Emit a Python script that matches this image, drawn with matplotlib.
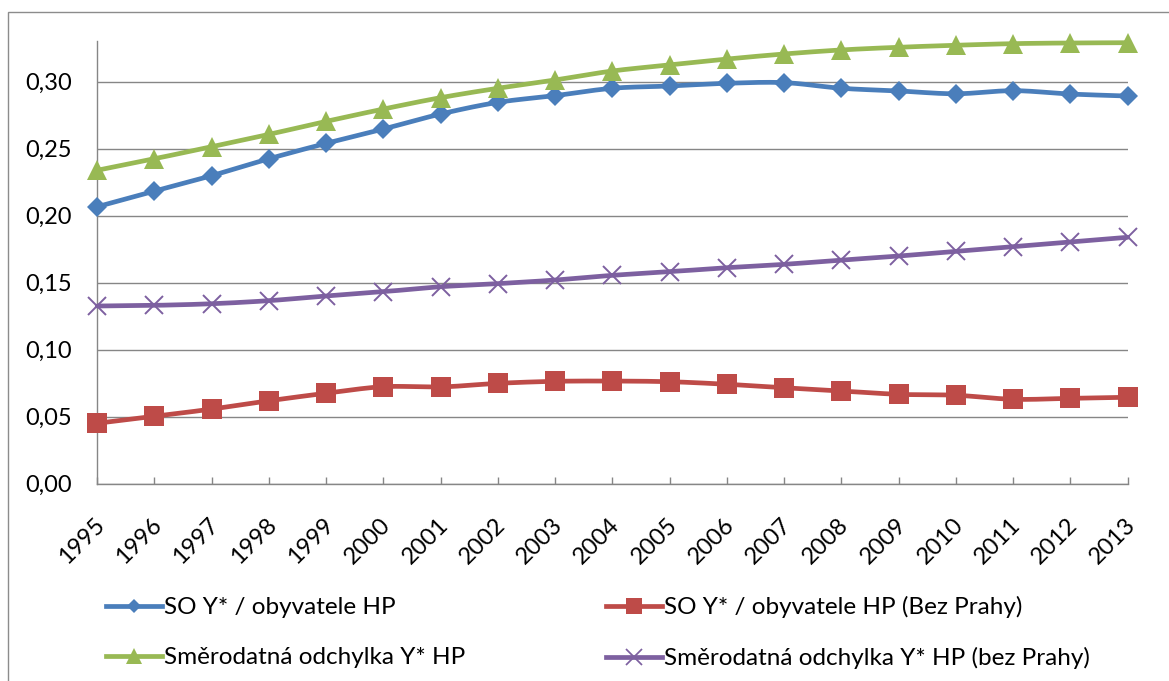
import numpy as np
import matplotlib
matplotlib.use("Agg")
import matplotlib.pyplot as plt
import matplotlib.transforms as mtransforms
from matplotlib.lines import Line2D
from matplotlib.patches import Rectangle
from matplotlib.ticker import FuncFormatter, MultipleLocator

plt.rcParams["font.family"] = ["Lato", "DejaVu Sans"]

years = list(range(1995, 2014))

so_hp = [0.2067, 0.2184, 0.2299, 0.2425, 0.2540, 0.2647, 0.2759, 0.2846, 0.2896,
         0.2951, 0.2968, 0.2988, 0.2993, 0.2951, 0.2931, 0.2910, 0.2933, 0.2908, 0.2893]
so_hp_bez = [0.0451, 0.0503, 0.0557, 0.0619, 0.0675, 0.0724, 0.0722, 0.0749, 0.0764,
             0.0766, 0.0761, 0.0742, 0.0716, 0.0692, 0.0667, 0.0660, 0.0630, 0.0637, 0.0645]
sd_hp = [0.2339, 0.2425, 0.2515, 0.2607, 0.2704, 0.2796, 0.2881, 0.2951, 0.3013,
         0.3080, 0.3125, 0.3169, 0.3207, 0.3237, 0.3257, 0.3272, 0.3284, 0.3289, 0.3291]
sd_hp_bez = [0.1326, 0.1331, 0.1343, 0.1366, 0.1401, 0.1433, 0.1470, 0.1493, 0.1520,
             0.1555, 0.1582, 0.1612, 0.1637, 0.1669, 0.1699, 0.1734, 0.1769, 0.1804, 0.1839]

labels = ["SO Y* / obyvatele HP",
          "SO Y* / obyvatele HP (Bez Prahy)",
          "Směrodatná odchylka Y* HP",
          "Směrodatná odchylka Y* HP (bez Prahy)"]
colors = ["#4A7EBB", "#BE4B48", "#98B954", "#7D60A0"]
markers = ["D", "s", "^", "x"]
msizes = [10.5, 14, 14, 13]
leg_msizes = [7.5, 11, 12, 11]
series = [so_hp, so_hp_bez, sd_hp, sd_hp_bez]


def smooth(x, y, n=20):
    """Catmull-Rom curve through the points (smoothed line)."""
    x = np.asarray(x, float)
    y = np.asarray(y, float)
    px = np.concatenate([[2 * x[0] - x[1]], x, [2 * x[-1] - x[-2]]])
    py = np.concatenate([[2 * y[0] - y[1]], y, [2 * y[-1] - y[-2]]])
    xs, ys = [], []
    t = np.linspace(0, 1, n, endpoint=False)
    for i in range(1, len(px) - 2):
        for P, out in ((px, xs), (py, ys)):
            p0, p1, p2, p3 = P[i - 1], P[i], P[i + 1], P[i + 2]
            out.extend(0.5 * ((2 * p1) + (-p0 + p2) * t
                              + (2 * p0 - 5 * p1 + 4 * p2 - p3) * t ** 2
                              + (-p0 + 3 * p1 - 3 * p2 + p3) * t ** 3))
    xs.append(x[-1])
    ys.append(y[-1])
    return np.array(xs), np.array(ys)


W, H = 1169, 681
fig = plt.figure(figsize=(W / 100, H / 100), dpi=100)

# chart frame
fig.patches.append(Rectangle((8 / W, -0.1), 1.2, 1 - 12 / H + 0.1,
                             transform=fig.transFigure, fill=False,
                             edgecolor="#8C8C8C", linewidth=1.0))

ax = fig.add_axes([97.2 / W, 1 - 483.7 / H, (1127.7 - 97.2) / W, (483.7 - 41.5) / H])
ax.set_xlim(1995, 2013)
ax.set_ylim(0, 0.33)

grid_c = "#868686"
ax.yaxis.set_major_locator(MultipleLocator(0.05))
ax.yaxis.set_major_formatter(FuncFormatter(lambda v, p: f"{v:.2f}".replace(".", ",")))
ax.grid(axis="y", color=grid_c, linewidth=1.0)
ax.set_axisbelow(True)
for s in ("top", "right"):
    ax.spines[s].set_visible(False)
for s in ("left", "bottom"):
    ax.spines[s].set_color(grid_c)
    ax.spines[s].set_linewidth(1.0)

ax.set_xticks(years)
ax.set_xticklabels([str(y) for y in years], rotation=45, ha="right",
                   va="center", rotation_mode="anchor")
ax.tick_params(axis="x", direction="in", length=5, color=grid_c, width=1.0,
               labelsize=17, pad=27)
ax.tick_params(axis="y", length=0, labelsize=17, pad=18)
shift = mtransforms.ScaledTranslation(4 / 100, 0, fig.dpi_scale_trans)
for lab in ax.get_xticklabels():
    lab.set_transform(lab.get_transform() + shift)

handles = []
for vals, lab, c, m, ms, lms in zip(series, labels, colors, markers, msizes, leg_msizes):
    sx, sy = smooth(years, vals)
    ax.plot(sx, sy, color=c, linewidth=3.4, solid_capstyle="round", clip_on=False, zorder=3)
    mew = 1.4 if m == "x" else 0
    ax.plot(years, vals, linestyle="none", marker=m, markersize=ms, color=c,
            markeredgecolor=c, markeredgewidth=mew, clip_on=False, zorder=4)
    handles.append(Line2D([], [], color=c, linewidth=3.4, marker=m, markersize=lms,
                          markeredgecolor=c, markeredgewidth=mew * 0.9))

order = [0, 2, 1, 3]
fig.legend([handles[i] for i in order], [labels[i] for i in order],
           ncol=2, loc="lower left", mode="expand",
           bbox_to_anchor=(96 / W, 1 - 679 / H, 1004 / W, 100 / H),
           frameon=False, fontsize=17.5, handlelength=2.3, handletextpad=0.1,
           labelspacing=1.2, borderaxespad=0)

fig.savefig("out.png", dpi=100)
